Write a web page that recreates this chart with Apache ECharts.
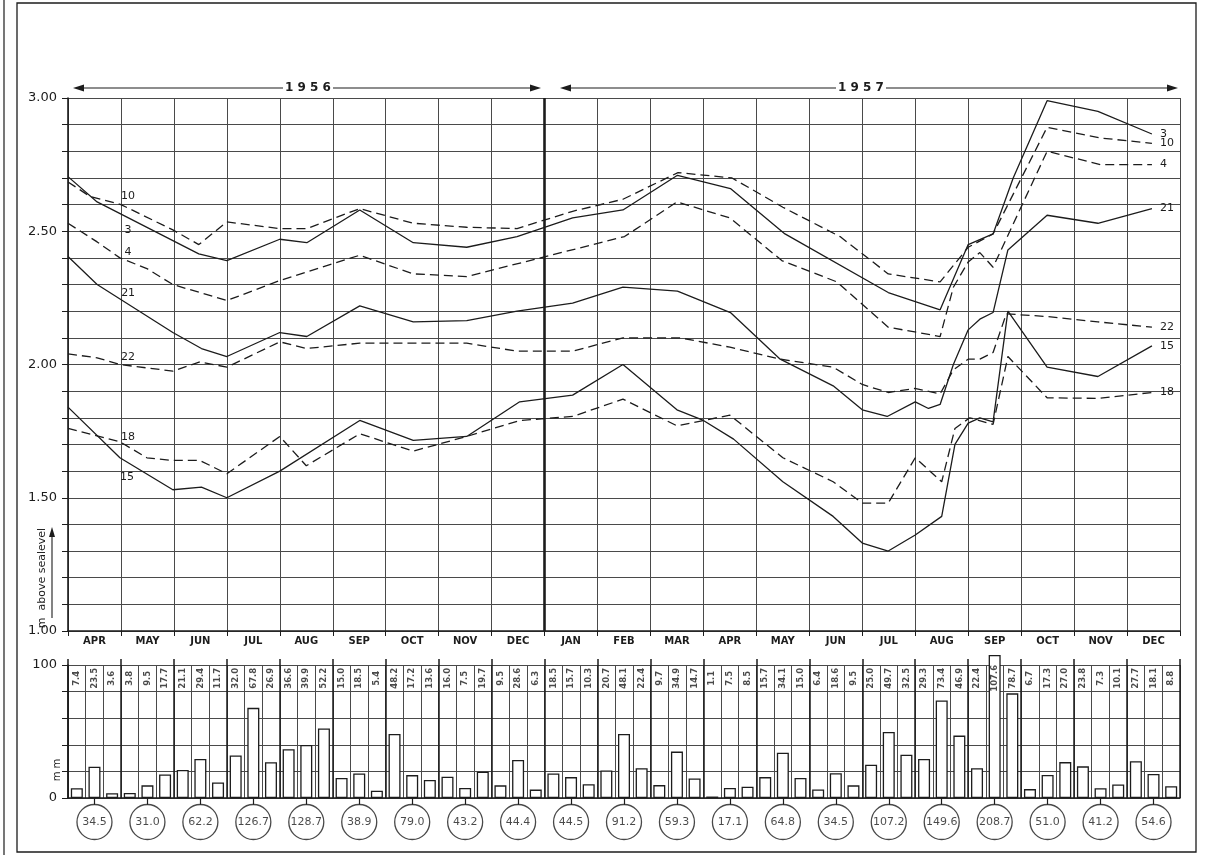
<!DOCTYPE html>
<html>
<head>
<meta charset="utf-8">
<script src="https://cdn.jsdelivr.net/npm/echarts@6/dist/echarts.min.js"></script>
<style>
  html, body { margin: 0; padding: 0; background: #fff; }
  #chart { width: 1207px; height: 855px; }
</style>
</head>
<body>
<div id="chart"></div>
<script>
// Month columns, April 1956 to December 1957
const months = ['APR','MAY','JUN','JUL','AUG','SEP','OCT','NOV','DEC',
                'JAN','FEB','MAR','APR','MAY','JUN','JUL','AUG','SEP','OCT','NOV','DEC'];

// Groundwater levels (m above sea level) per well; x = months since 1 April 1956
const well3  = [[0,2.705],[0.55,2.61],[2.47,2.415],[3.0,2.39],[4.0,2.47],[4.51,2.457],[5.51,2.58],[6.52,2.457],[7.53,2.44],[8.48,2.48],[9.53,2.55],[10.48,2.58],[11.51,2.71],[12.51,2.66],[13.54,2.49],[15.49,2.27],[16.47,2.205],[17.0,2.45],[17.47,2.49],[17.85,2.70],[18.49,2.99],[19.45,2.95],[20.47,2.865]];
const well10 = [[0,2.685],[0.42,2.63],[1.0,2.60],[1.98,2.505],[2.47,2.45],[3.0,2.535],[4.0,2.51],[4.51,2.51],[5.51,2.585],[6.52,2.53],[7.53,2.515],[8.48,2.51],[9.53,2.575],[10.48,2.62],[11.52,2.72],[12.54,2.70],[13.5,2.59],[14.58,2.48],[15.49,2.34],[16.47,2.31],[17.0,2.44],[17.47,2.49],[18.49,2.89],[19.5,2.85],[20.47,2.83]];
const well4  = [[0,2.53],[0.55,2.46],[0.98,2.40],[1.49,2.36],[1.98,2.30],[3.0,2.24],[4.0,2.315],[5.51,2.41],[6.52,2.34],[7.53,2.33],[10.51,2.48],[11.5,2.61],[12.5,2.55],[13.48,2.39],[14.52,2.31],[15.49,2.14],[16.47,2.105],[16.72,2.29],[17.0,2.385],[17.22,2.42],[17.47,2.365],[18.49,2.80],[19.5,2.75],[20.47,2.75]];
const well21 = [[0,2.405],[0.55,2.30],[1.98,2.12],[2.52,2.06],[3.0,2.03],[4.0,2.12],[4.51,2.105],[5.51,2.22],[6.52,2.16],[7.53,2.165],[8.48,2.20],[9.53,2.23],[10.48,2.29],[11.51,2.275],[12.51,2.195],[13.45,2.02],[14.45,1.92],[15.0,1.83],[15.47,1.805],[16.0,1.86],[16.25,1.835],[16.47,1.85],[16.72,2.00],[17.0,2.13],[17.22,2.17],[17.47,2.195],[17.75,2.43],[18.49,2.56],[19.45,2.53],[20.47,2.585]];
const well22 = [[0,2.04],[0.55,2.025],[0.98,2.00],[1.98,1.975],[2.49,2.01],[3.0,1.99],[4.0,2.085],[4.51,2.06],[5.51,2.08],[7.53,2.08],[8.48,2.05],[9.53,2.05],[10.48,2.10],[11.56,2.10],[12.5,2.065],[13.45,2.02],[14.45,1.99],[15.0,1.925],[15.49,1.895],[15.99,1.91],[16.47,1.89],[16.72,1.98],[17.0,2.02],[17.22,2.02],[17.47,2.045],[17.72,2.19],[18.49,2.18],[19.45,2.16],[20.47,2.14]];
const well18 = [[0,1.76],[0.98,1.71],[1.49,1.65],[1.98,1.64],[2.49,1.64],[3.0,1.59],[4.0,1.73],[4.5,1.62],[5.51,1.74],[6.52,1.675],[7.53,1.73],[8.53,1.79],[9.53,1.805],[10.48,1.87],[11.5,1.77],[12.5,1.81],[13.5,1.65],[14.45,1.56],[15.0,1.48],[15.49,1.48],[16.0,1.65],[16.5,1.56],[16.75,1.76],[17.03,1.80],[17.47,1.775],[17.75,2.03],[18.49,1.875],[19.45,1.873],[20.47,1.895]];
const well15 = [[0,1.84],[0.98,1.65],[1.98,1.53],[2.52,1.54],[3.0,1.50],[4.0,1.60],[5.51,1.79],[6.52,1.715],[7.53,1.73],[8.53,1.86],[9.53,1.885],[10.48,2.00],[11.5,1.83],[12.0,1.79],[12.57,1.72],[13.5,1.56],[14.45,1.43],[15.0,1.33],[15.49,1.30],[16.0,1.36],[16.5,1.43],[16.75,1.70],[17.0,1.78],[17.22,1.80],[17.47,1.785],[17.75,2.20],[18.49,1.99],[19.45,1.955],[20.47,2.07]];

// Rainfall per ten-day period (mm), three per month
const rain = [
  7.4, 23.5, 3.6,   3.8, 9.5, 17.7,   21.1, 29.4, 11.7,   32.0, 67.8, 26.9,
  36.6, 39.9, 52.2, 15.0, 18.5, 5.4,  48.2, 17.2, 13.6,   16.0, 7.5, 19.7,
  9.5, 28.6, 6.3,   18.5, 15.7, 10.3, 20.7, 48.1, 22.4,   9.7, 34.9, 14.7,
  1.1, 7.5, 8.5,    15.7, 34.1, 15.0, 6.4, 18.6, 9.5,     25.0, 49.7, 32.5,
  29.3, 73.4, 46.9, 22.4, 107.6, 78.7, 6.7, 17.3, 27.0,   23.8, 7.3, 10.1,
  27.7, 18.1, 8.8
];
// Monthly rainfall totals (mm)
const monthTotals = [34.5, 31.0, 62.2, 126.7, 128.7, 38.9, 79.0, 43.2, 44.4,
                     44.5, 91.2, 59.3, 17.1, 64.8, 34.5, 107.2, 149.6, 208.7, 51.0, 41.2, 54.6];

const INK = '#1c1c1c';
const GRIDC = '#4a4a4a';
const FONT = 'DejaVu Sans';

// Well series: name, data, dashed?, which point carries the left-hand label and its offset
const wells = [
  { name: '3',  data: well3,  dashed: false, at: 1, off: [31, 28] },
  { name: '10', data: well10, dashed: true,  at: 2, off: [7, -8] },
  { name: '4',  data: well4,  dashed: true,  at: 2, off: [8, -6] },
  { name: '21', data: well21, dashed: false, at: 1, off: [31, 9] },
  { name: '22', data: well22, dashed: true,  at: 2, off: [8, -7] },
  { name: '18', data: well18, dashed: true,  at: 1, off: [8, -5] },
  { name: '15', data: well15, dashed: false, at: 1, off: [7, 19] }
];

const lineSeries = wells.map((w, k) => ({
  type: 'line',
  name: w.name,
  xAxisIndex: 0,
  yAxisIndex: 0,
  symbol: 'circle',
  symbolSize: 0,
  showSymbol: true,
  showAllSymbol: true,
  silent: true,
  z: 5,
  lineStyle: { color: INK, width: 1.3, type: w.dashed ? [9, 5] : 'solid' },
  itemStyle: { color: INK },
  data: w.data.map((p, i) => i === w.at
    ? { value: p, label: { show: true, position: 'inside', offset: w.off, formatter: w.name,
        color: INK, fontSize: 11, fontFamily: FONT } }
    : p),
  endLabel: { show: true, formatter: '{a}', distance: 8, color: INK, fontSize: 11, fontFamily: FONT },
  markLine: k === 0 ? {
    silent: true, symbol: 'none', label: { show: false },
    lineStyle: { color: INK, width: 2.6, type: 'solid' },
    data: [{ xAxis: 9 }]
  } : undefined
}));

const chart = echarts.init(document.getElementById('chart'), null, { renderer: 'canvas' });

// Header arrow helper pieces (year spans)
function arrowHead(x, y, dir) {
  return { type: 'polygon', shape: { points: [[x, y], [x - dir * 11, y - 3.5], [x - dir * 11, y + 3.5]] },
           style: { fill: INK } };
}
function hline(x1, x2, y, w) {
  return { type: 'line', shape: { x1, y1: y, x2, y2: y }, style: { stroke: INK, lineWidth: w || 1.2 } };
}

chart.setOption({
  animation: false,
  backgroundColor: '#fff',
  grid: [
    { left: 68, right: 27, top: 98, height: 533 },
    { left: 68, right: 27, top: 665, height: 133 },
    { left: 68, right: 27, top: 804, height: 36 }
  ],
  xAxis: [
    { // 0: month boundaries for the level graph
      type: 'value', gridIndex: 0, min: 0, max: 21, interval: 1,
      axisLine: { show: true, lineStyle: { color: INK, width: 1.6 } },
      axisTick: { show: true, length: 5, lineStyle: { color: INK, width: 1 } },
      axisLabel: { show: false },
      splitLine: { show: true, lineStyle: { color: GRIDC, width: 1 } }
    },
    { // 1: month names
      type: 'category', gridIndex: 0, data: months, position: 'bottom',
      axisLine: { show: false }, axisTick: { show: false }, splitLine: { show: false },
      axisLabel: { show: true, margin: 5, color: INK, fontSize: 10, fontWeight: 'bold', fontFamily: FONT, interval: 0 }
    },
    { // 2: ten-day periods for the rainfall bars
      type: 'category', gridIndex: 1, data: rain.map((v, i) => i), boundaryGap: true,
      axisLine: { show: true, lineStyle: { color: INK, width: 1.6 } },
      axisTick: { show: false }, axisLabel: { show: false },
      splitLine: { show: true, interval: 0, lineStyle: { color: GRIDC, width: 1 } }
    },
    { // 3: month boundaries in the rainfall panel
      type: 'value', gridIndex: 1, min: 0, max: 21, interval: 1, position: 'top',
      axisLine: { show: false },
      axisTick: { show: true, length: 6, lineStyle: { color: INK, width: 1.5 } },
      axisLabel: { show: false },
      splitLine: { show: true, lineStyle: { color: INK, width: 1.5 } }
    },
    { // 4: connectors down to the monthly totals
      type: 'category', gridIndex: 1, data: months, position: 'bottom', boundaryGap: true,
      axisLine: { show: false },
      axisTick: { show: true, alignWithLabel: true, interval: 0, length: 7, lineStyle: { color: INK, width: 1.2 } },
      axisLabel: { show: false }, splitLine: { show: false }
    },
    { // 5: monthly totals row
      type: 'category', gridIndex: 2, data: months, show: false
    }
  ],
  yAxis: [
    {
      type: 'value', gridIndex: 0, min: 1, max: 3, interval: 0.1,
      axisLine: { show: true, lineStyle: { color: INK, width: 1.6 } },
      axisTick: { show: true, length: 6, lineStyle: { color: INK } },
      splitLine: { show: true, lineStyle: { color: GRIDC, width: 1 } },
      axisLabel: {
        margin: 11, color: INK, fontSize: 13, fontFamily: FONT,
        formatter: v => (Math.round(v * 100) % 50 === 0 ? v.toFixed(2) : '')
      }
    },
    {
      type: 'value', gridIndex: 1, min: 0, max: 100, interval: 20,
      axisLine: { show: true, lineStyle: { color: INK, width: 1.6 } },
      axisTick: { show: true, length: 6, lineStyle: { color: INK } },
      splitLine: { show: true, lineStyle: { color: GRIDC, width: 1 } },
      axisLabel: {
        margin: 11, color: INK, fontSize: 13, fontFamily: FONT,
        formatter: v => (v === 0 || v === 100 ? String(v) : '')
      }
    },
    { type: 'value', gridIndex: 2, min: 0, max: 1, show: false }
  ],
  series: [
    ...lineSeries,
    {
      type: 'bar', name: 'rain', xAxisIndex: 2, yAxisIndex: 1, data: rain,
      barWidth: 12, clip: false, silent: true, z: 4,
      itemStyle: { color: '#fff', borderColor: INK, borderWidth: 1.3 }
    },
    {
      type: 'scatter', name: 'rain values', xAxisIndex: 2, yAxisIndex: 1, silent: true, z: 6,
      symbolSize: 0,
      data: rain.map((v, i) => [i, 90, v]),
      label: {
        show: true, position: 'inside', rotate: 90,
        formatter: p => p.value[2].toFixed(1),
        color: INK, fontSize: 8.5, fontWeight: 'bold', fontFamily: FONT
      }
    },
    {
      type: 'scatter', name: 'monthly totals', xAxisIndex: 5, yAxisIndex: 2, silent: true, z: 6,
      symbol: 'circle', symbolSize: [35, 35],
      itemStyle: { color: '#fff', borderColor: INK, borderWidth: 1.3 },
      data: monthTotals.map((t, i) => [i, 0.5, t]),
      label: {
        show: true, position: 'inside',
        formatter: p => p.value[2].toFixed(1),
        color: INK, fontSize: 11, fontFamily: FONT
      }
    }
  ],
  graphic: [
    // sheet frame
    { type: 'rect', shape: { x: 17, y: 3, width: 1179, height: 849 }, style: { fill: 'none', stroke: INK, lineWidth: 1.3 } },
    { type: 'line', shape: { x1: 4, y1: 0, x2: 4, y2: 855 }, style: { stroke: INK, lineWidth: 1.2 } },
    // year spans
    hline(80, 283, 88), hline(333, 532, 88),
    arrowHead(73, 88, -1), arrowHead(541, 88, 1),
    { type: 'text', x: 308, y: 88, style: { text: '1 9 5 6', font: 'bold 12px "DejaVu Sans"', fill: INK, align: 'center', verticalAlign: 'middle' } },
    hline(567, 836, 88), hline(886, 1170, 88),
    arrowHead(560, 88, -1), arrowHead(1178, 88, 1),
    { type: 'text', x: 861, y: 88, style: { text: '1 9 5 7', font: 'bold 12px "DejaVu Sans"', fill: INK, align: 'center', verticalAlign: 'middle' } },
    // level axis title
    { type: 'text', x: 42, y: 578, rotation: Math.PI / 2,
      style: { text: 'm  above sealevel', font: '11px "DejaVu Sans"', fill: INK, align: 'center', verticalAlign: 'middle' } },
    { type: 'line', shape: { x1: 52, y1: 618, x2: 52, y2: 533 }, style: { stroke: INK, lineWidth: 1.1 } },
    { type: 'polygon', shape: { points: [[52, 527], [49, 537], [55, 537]] }, style: { fill: INK } },
    // rainfall axis title
    { type: 'text', x: 57, y: 770, rotation: Math.PI / 2,
      style: { text: 'm m', font: '10px "DejaVu Sans"', fill: INK, align: 'center', verticalAlign: 'middle' } }
  ]
});
</script>
</body>
</html>
